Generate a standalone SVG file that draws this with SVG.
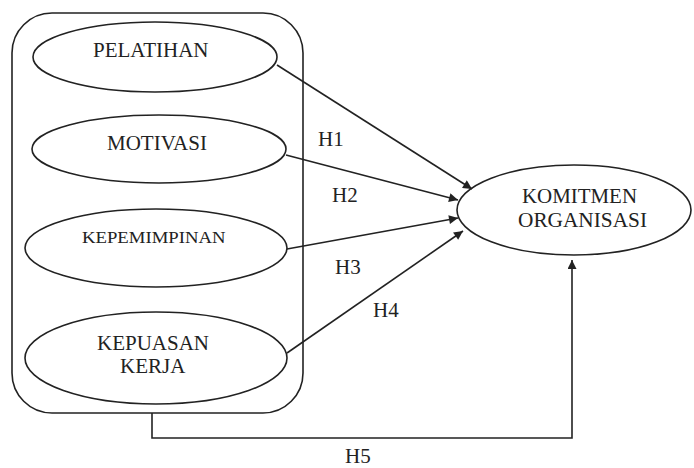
<svg xmlns="http://www.w3.org/2000/svg" width="694" height="468" viewBox="0 0 694 468">
<style>
.shape{fill:#fff;stroke:#222;stroke-width:1.6}
.conn{fill:none;stroke:#222;stroke-width:1.6}
.lbl{font-family:"Liberation Serif","Times New Roman",serif;fill:#222;font-size:21px}
.h{font-family:"Liberation Serif","Times New Roman",serif;fill:#222;font-size:21px}
</style>
<defs>
<marker id="arr" viewBox="0 0 10 10" refX="10" refY="5" markerWidth="10" markerHeight="9" markerUnits="userSpaceOnUse" orient="auto">
<path d="M0,0 L10,5 L0,10 Z" fill="#222"/>
</marker>
</defs>
<rect width="694" height="468" fill="#fff"/>
<g id="group-box">
<rect class="shape" x="12" y="13" width="291" height="400" rx="40" ry="40"/>
</g>
<g id="node-pelatihan">
<ellipse class="shape" cx="155" cy="57" rx="122" ry="35"/>
<text class="lbl" x="93" y="57">PELATIHAN</text>
</g>
<g id="node-motivasi">
<ellipse class="shape" cx="159" cy="149" rx="127" ry="34"/>
<text class="lbl" x="107" y="150">MOTIVASI</text>
</g>
<g id="node-kepemimpinan">
<ellipse class="shape" cx="156" cy="248" rx="131" ry="39"/>
<text class="lbl" style="font-size:16px" transform="translate(82,243) scale(1.17,1)" x="0" y="0">KEPEMIMPINAN</text>
</g>
<g id="node-kepuasan">
<ellipse class="shape" cx="156" cy="358" rx="131" ry="46"/>
<text class="lbl" x="97" y="350">KEPUASAN</text>
<text class="lbl" x="120" y="373">KERJA</text>
</g>
<g id="node-komitmen">
<ellipse class="shape" cx="574" cy="210" rx="117" ry="45"/>
<text class="lbl" x="522" y="203" textLength="115" lengthAdjust="spacingAndGlyphs">KOMITMEN</text>
<text class="lbl" x="518" y="227" textLength="129" lengthAdjust="spacingAndGlyphs">ORGANISASI</text>
</g>
<g id="connectors">
<line class="conn" x1="277" y1="65" x2="472" y2="189" marker-end="url(#arr)"/>
<line class="conn" x1="286" y1="155" x2="458" y2="200" marker-end="url(#arr)"/>
<line class="conn" x1="287" y1="249" x2="458" y2="218" marker-end="url(#arr)"/>
<line class="conn" x1="287" y1="353" x2="463" y2="231" marker-end="url(#arr)"/>
<polyline class="conn" points="152,413 152,438 572,438 572,260" marker-end="url(#arr)"/>
</g>
<g id="labels">
<text class="h" x="318" y="146">H1</text>
<text class="h" x="332" y="202">H2</text>
<text class="h" x="335" y="274">H3</text>
<text class="h" x="373" y="317">H4</text>
<text class="h" x="345" y="463">H5</text>
</g>
</svg>
